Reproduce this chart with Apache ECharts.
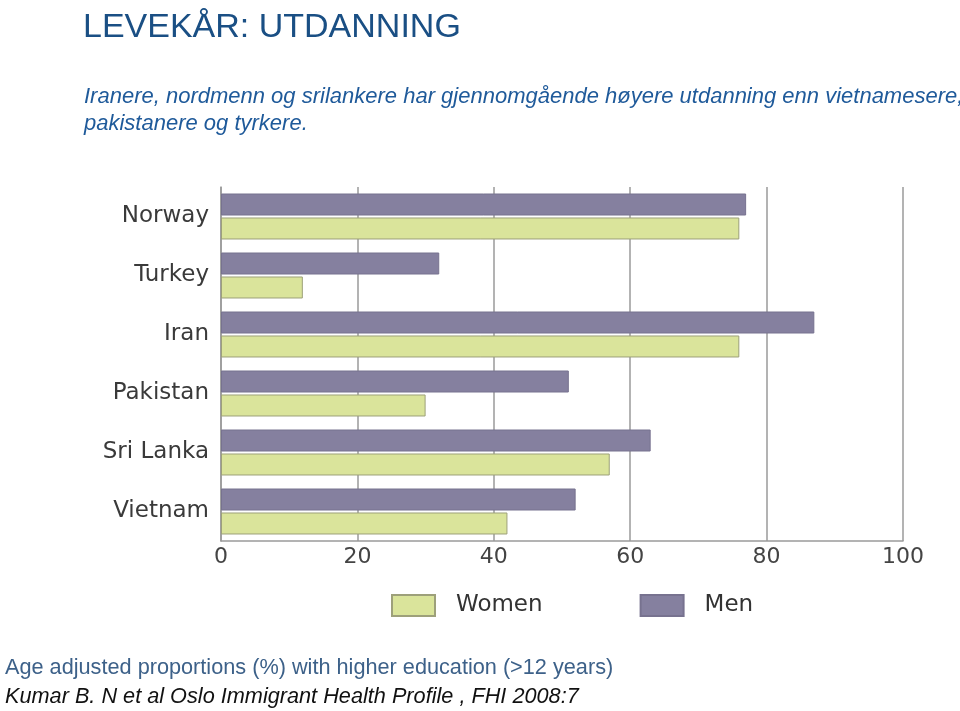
<!DOCTYPE html>
<html>
<head>
<meta charset="utf-8">
<script src="https://cdn.jsdelivr.net/npm/echarts@6/dist/echarts.min.js"></script>
<style>html,body{margin:0;padding:0;background:#fff}#c{width:960px;height:711px}</style>
</head>
<body>
<div id="c"></div>
<script>
const categories = ['Norway', 'Turkey', 'Iran', 'Pakistan', 'Sri Lanka', 'Vietnam'];
const men = [77, 32, 87, 51, 63, 52];
const women = [76, 12, 76, 30, 57, 42];
const xTicks = [0, 20, 40, 60, 80, 100];

const chart = echarts.init(document.getElementById('c'));
chart.setOption({
  animation: false,
  backgroundColor: '#ffffff',
  title: [
    { text: 'LEVEKÅR: UTDANNING', left: 78, top: 6,
      textStyle: { fontFamily: 'Liberation Sans', fontSize: 34, fontWeight: 'normal', color: '#1a4f84' } },
    { text: 'Iranere, nordmenn og srilankere har gjennomgående høyere utdanning enn vietnamesere,\npakistanere og tyrkere.',
      left: 79, top: 78,
      textStyle: { fontFamily: 'Liberation Sans', fontStyle: 'italic', fontSize: 22, fontWeight: 'normal', color: '#1f5a9a', lineHeight: 27 } },
    { text: 'Age adjusted proportions (%) with higher education (>12 years)', left: 0, top: 652,
      textStyle: { fontFamily: 'Liberation Sans', fontSize: 21.7, fontWeight: 'normal', color: '#3d6189' } },
    { text: 'Kumar B. N et al Oslo Immigrant Health Profile , FHI 2008:7', left: 0, top: 681,
      textStyle: { fontFamily: 'Liberation Sans', fontStyle: 'italic', fontSize: 21.7, fontWeight: 'normal', color: '#111111' } }
  ],
  legend: {
    data: ['Women', 'Men'],
    left: 386, top: 589,
    itemWidth: 43, itemHeight: 21, itemGap: 97,
    icon: 'rect',
    textStyle: { fontFamily: 'DejaVu Sans', fontSize: 23, color: '#333', padding: [0, 0, 0, 16] }
  },
  grid: { left: 221, right: 57, top: 187, bottom: 170, containLabel: false },
  xAxis: {
    type: 'value', min: 0, max: 100, interval: 20,
    axisLine: { show: true, lineStyle: { color: '#9a9a9a', width: 1.5 } },
    axisTick: { show: false },
    axisLabel: { fontFamily: 'DejaVu Sans', fontSize: 22, color: '#444', margin: 5,
      formatter: v => xTicks.includes(v) ? String(v) : '' },
    splitLine: { show: true, lineStyle: { color: '#9a9a9a', width: 1.5 } }
  },
  yAxis: {
    type: 'category', data: categories, inverse: true,
    axisLine: { show: true, lineStyle: { color: '#9a9a9a', width: 1.5 } },
    axisTick: { show: false },
    axisLabel: { fontFamily: 'DejaVu Sans', fontSize: 23, color: '#3a3a3a', margin: 12 }
  },
  series: [
    { name: 'Men', type: 'bar', data: men, barWidth: 22, barGap: '9%',
      itemStyle: { color: '#85809f', borderColor: '#77728f', borderWidth: 1 } },
    { name: 'Women', type: 'bar', data: women, barWidth: 22, barGap: '9%',
      itemStyle: { color: '#dae49b', borderColor: '#9da07a', borderWidth: 1 } }
  ]
});
</script>
</body>
</html>
